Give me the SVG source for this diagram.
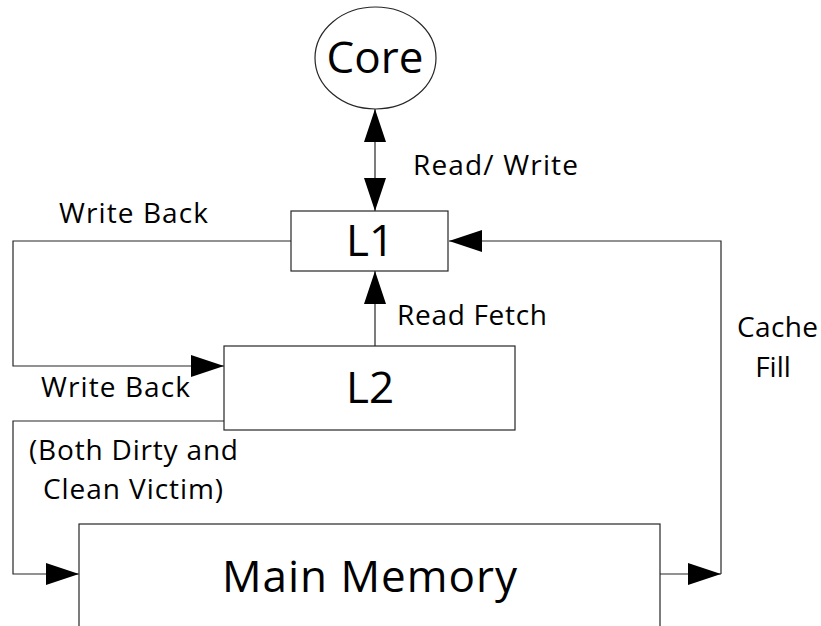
<svg xmlns="http://www.w3.org/2000/svg" width="821" height="626" viewBox="0 0 821 626">
  <style>
    .shape { fill: #ffffff; stroke: #262626; stroke-width: 1.2; }
    .link { fill: none; stroke: #262626; stroke-width: 1.2; }
    .big { font-family: "Open Sans", "Liberation Sans", sans-serif; font-size: 44px; fill: #000; }
    .lbl { font-family: "Open Sans", "Liberation Sans", sans-serif; font-size: 28px; fill: #000; }
  </style>
  <defs>
    <marker id="arrow" markerUnits="userSpaceOnUse" markerWidth="34" markerHeight="24" viewBox="0 0 34 24" refX="33" refY="12" orient="auto-start-reverse">
      <path d="M0,1 L33,12 L0,23 z" fill="#000"/>
    </marker>
  </defs>
  <rect width="821" height="626" fill="#ffffff"/>

  <!-- connectors -->
  <g id="connectors">
    <path class="link" d="M375,109 L375,211" marker-start="url(#arrow)" marker-end="url(#arrow)"/>
    <path class="link" d="M291,241 L13,241 L13,366 L224,366" marker-end="url(#arrow)"/>
    <path class="link" d="M375,346 L375,271" marker-end="url(#arrow)"/>
    <path class="link" d="M224,421 L13,421 L13,574 L79,574" marker-end="url(#arrow)"/>
    <path class="link" d="M660,574 L721,574" marker-end="url(#arrow)"/>
    <path class="link" d="M721,574 L721,241 L449,241" marker-end="url(#arrow)"/>
  </g>

  <!-- nodes -->
  <g id="core">
    <ellipse class="shape" cx="375.5" cy="58" rx="60.5" ry="51"/>
    <text class="big" x="375" y="73" text-anchor="middle">Core</text>
  </g>
  <g id="l1">
    <rect class="shape" x="291" y="211" width="157" height="60"/>
    <text class="big" x="370" y="256" text-anchor="middle">L1</text>
  </g>
  <g id="l2">
    <rect class="shape" x="224" y="346" width="291" height="84"/>
    <text class="big" x="370" y="403" text-anchor="middle">L2</text>
  </g>
  <g id="main-memory">
    <rect class="shape" x="79" y="524" width="581" height="130"/>
    <text class="big" x="222" y="592" textLength="295">Main Memory</text>
  </g>

  <!-- edge labels -->
  <g id="labels">
    <text class="lbl" x="413" y="175" textLength="165">Read/ Write</text>
    <text class="lbl" x="59" y="223" textLength="149">Write Back</text>
    <text class="lbl" x="397" y="325" textLength="150">Read Fetch</text>
    <text class="lbl" x="737" y="337" textLength="81">Cache</text>
    <text class="lbl" x="773" y="377" text-anchor="middle">Fill</text>
    <text class="lbl" x="41" y="397" textLength="149">Write Back</text>
    <text class="lbl" x="29" y="460" textLength="209">(Both Dirty and</text>
    <text class="lbl" x="43" y="499" textLength="180">Clean Victim)</text>
  </g>
</svg>
